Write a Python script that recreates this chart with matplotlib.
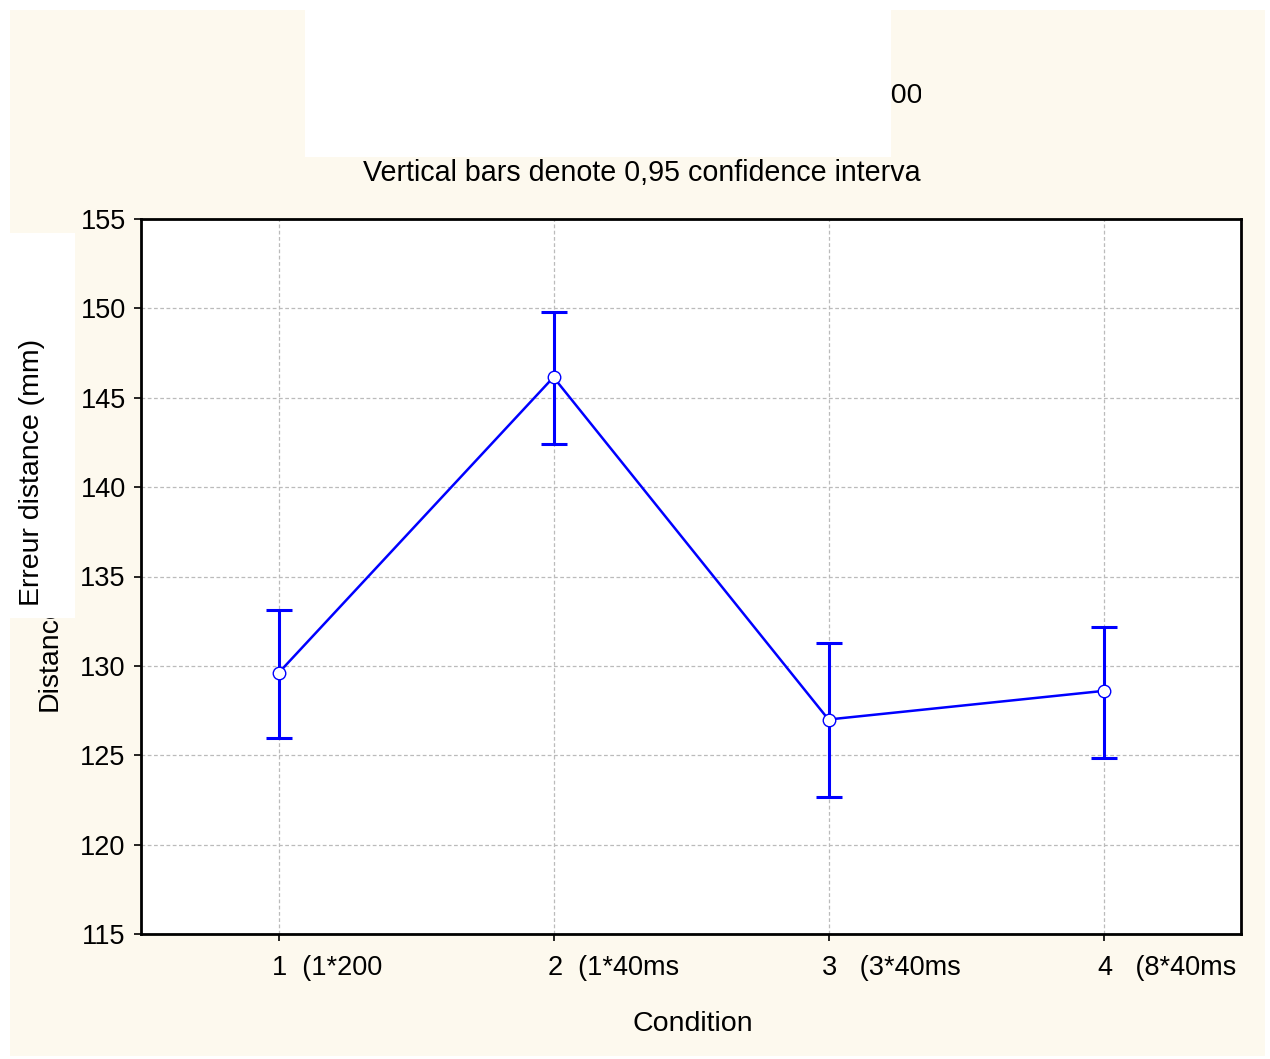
import matplotlib
matplotlib.use("Agg")
import matplotlib.pyplot as plt
import matplotlib.transforms as mtransforms
from matplotlib.patches import Rectangle
from matplotlib.transforms import Bbox

conditions = ["1  (1*200", "2  (1*40ms", "3   (3*40ms", "4   (8*40ms"]
means = [129.6, 146.15, 127.0, 128.6]
ci_low = [125.95, 142.4, 122.65, 124.85]
ci_high = [133.1, 149.8, 131.3, 132.15]
y_ticks = [115, 120, 125, 130, 135, 140, 145, 150, 155]

font = "Liberation Sans"
plt.rcParams["font.family"] = [font, "DejaVu Sans"]

W, H = 1270, 1059
fig = plt.figure(figsize=(W / 100, H / 100), dpi=100)
fig.patch.set_facecolor("white")

def fx(px):
    return px / W

def fy(py):
    return 1 - py / H

cream = "#FDF9EE"
fig.patches.append(Rectangle((fx(10), fy(1056)), fx(1255), (1046) / H,
                             transform=fig.transFigure, facecolor=cream,
                             edgecolor="none", zorder=-5))

ax = fig.add_axes([fx(141), fy(934), fx(1241 - 141), (934 - 219) / H])
ax.set_facecolor("white")

x = list(range(1, len(conditions) + 1))
yerr = [[m - lo for m, lo in zip(means, ci_low)],
        [hi - m for m, hi in zip(means, ci_high)]]
ax.errorbar(x, means, yerr=yerr, fmt="none", ecolor="#0000FF",
            elinewidth=2.2, capsize=9.5, capthick=2.2, zorder=3)
ax.plot(x, means, color="#0000FF", linewidth=1.8, marker="o",
        markersize=9, markerfacecolor="white", markeredgecolor="#0000FF",
        markeredgewidth=1.0, zorder=4)

ax.set_xlim(0.5, 4.5)
ax.set_ylim(115, 155)
ax.set_yticks(y_ticks)
ax.set_xticks(x)
ax.set_xticklabels(conditions, fontsize=19.5)
ax.set_yticklabels([str(v) for v in y_ticks], fontsize=19.5)
ax.grid(True, color="#BBBBBB", linestyle=(0, (3, 2)), linewidth=0.9)
ax.set_axisbelow(True)
for s in ax.spines.values():
    s.set_linewidth(2.0)
    s.set_color("black")
ax.tick_params(axis="both", direction="out", length=5, width=1.2)
ax.tick_params(axis="y", pad=6)
ax.tick_params(axis="x", pad=10)
# each x label starts just left of its tick
offset = mtransforms.ScaledTranslation(-6 / 100, 0, fig.dpi_scale_trans)
for lab in ax.get_xticklabels():
    lab.set_horizontalalignment("left")
    lab.set_transform(lab.get_transform() + offset)

fig.text(fx(693), fy(1024), "Condition", ha="center", va="center",
         fontsize=20.5)

# title line, cut at the right and partly hidden behind a white panel
clip = Bbox.from_extents(0, 0, 921, H)
t = fig.text(fx(868), fy(95), "0,0000", ha="left", va="center", fontsize=20.5)
t.set_clip_box(clip)
t.set_clip_on(True)
s = fig.text(fx(363), fy(173), "Vertical bars denote 0,95 confidence intervals",
             ha="left", va="center", fontsize=20.6)
s.set_clip_box(clip)
s.set_clip_on(True)
fig.patches.append(Rectangle((fx(305), fy(157)), fx(891 - 305), 147 / H,
                             transform=fig.transFigure, facecolor="white",
                             edgecolor="none", zorder=5))

# y label, its upper part hidden behind a white panel carrying the new label
d = fig.text(fx(50), fy(711), "Distance", rotation=90, ha="center",
             va="bottom", fontsize=20.5)
d.set_clip_box(Bbox.from_extents(0, 0, W, H - 618))
d.set_clip_on(True)
fig.patches.append(Rectangle((fx(10), fy(618)), fx(75 - 10), (618 - 233) / H,
                             transform=fig.transFigure, facecolor="white",
                             edgecolor="none", zorder=5))
fig.text(fx(32), fy(472), "Erreur distance (mm)", rotation=90, ha="center",
         va="center", fontsize=20.5, zorder=6)

fig.savefig("out.png", dpi=100, facecolor=fig.get_facecolor())
